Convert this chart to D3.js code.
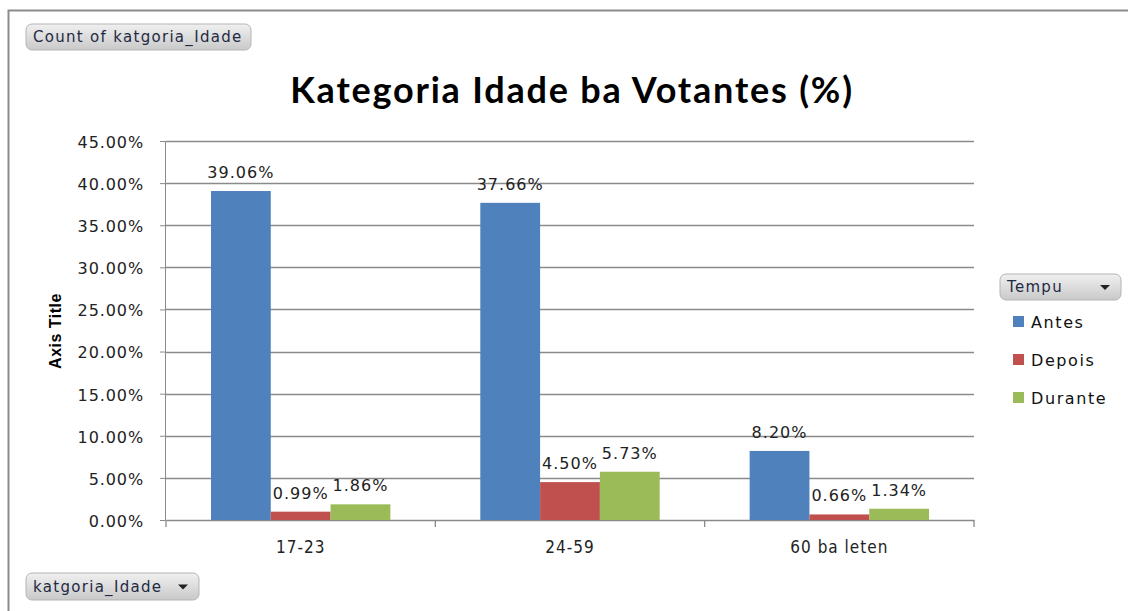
<!DOCTYPE html>
<html>
<head>
<meta charset="utf-8">
<script src="https://cdn.jsdelivr.net/npm/d3@7"></script>
<style>
  body { margin: 0; background: #fff; }
</style>
</head>
<body>
<div id="chart"></div>
<script>
// data
var categories = ["17-23", "24-59", "60 ba leten"];
var series = ["Antes", "Depois", "Durante"];
var seriesColors = ["#4f81bd", "#c0504d", "#9bbb59"];
var antes = [0.3906, 0.3766, 0.0820];
var depois = [0.0099, 0.0450, 0.0066];
var durante = [0.0186, 0.0573, 0.0134];
var yTicks = [0, 0.05, 0.10, 0.15, 0.20, 0.25, 0.30, 0.35, 0.40, 0.45];

var W = 1128, H = 611;
const margin = {top: 141, right: 154, bottom: 91, left: 166},
    width = W - margin.left - margin.right,
    height = H - margin.top - margin.bottom;

var svg = d3.select("#chart").append("svg")
    .attr("width", W).attr("height", H);

// outer frame (top + left)
svg.append("path")
    .attr("d", "M8.5," + H + "V10.5H" + W)
    .attr("fill", "none").attr("stroke", "#8c8c8c").attr("stroke-width", 2);

var defs = svg.append("defs");
var grad = defs.append("linearGradient").attr("id", "btn").attr("x1", 0).attr("x2", 0).attr("y1", 0).attr("y2", 1);
grad.append("stop").attr("offset", "0%").attr("stop-color", "#f0f0f0");
grad.append("stop").attr("offset", "100%").attr("stop-color", "#c9c9c9");

function button(x, y, w, h, label, arrow) {
    var g = svg.append("g").attr("transform", "translate(" + x + "," + y + ")");
    g.append("rect").attr("width", w).attr("height", h).attr("rx", 6)
        .attr("fill", "url(#btn)").attr("stroke", "#b5b5b5");
    g.append("text").attr("x", 7).attr("y", h / 2 + 5)
        .style("font-family", "'DejaVu Sans'")
        .style("font-size", "15px").style("letter-spacing", "1.3px")
        .attr("fill", "#1f2a44").text(label);
    if (arrow) {
        g.append("path")
            .attr("d", "M" + (w - 21) + "," + (h / 2 - 2) + "h10l-5,5z")
            .attr("fill", "#222");
    }
}
button(26, 24, 225, 26, "Count of katgoria_Idade", false);
button(26, 573, 173, 27, "katgoria_Idade", true);
button(1000, 274, 121, 26, "Tempu", true);

// title
svg.append("text")
    .attr("x", 572).attr("y", 103)
    .attr("text-anchor", "middle")
    .style("font-family", "Lato")
    .style("font-weight", "bold")
    .style("font-size", "36px")
    .style("letter-spacing", "1.8px")
    .attr("fill", "#000")
    .text("Kategoria Idade ba Votantes (%)");

var g = svg.append("g").attr("transform", "translate(" + margin.left + "," + margin.top + ")");

var x0 = d3.scaleBand().domain(categories).range([0, width]).paddingInner(0).paddingOuter(0);
var x1 = d3.scaleBand().domain(series).range([x0.bandwidth() * 0.167, x0.bandwidth() * 0.833]);
var y = d3.scaleLinear().domain([0, 0.45]).range([height, 0]);

// gridlines
g.selectAll(".grid").data(yTicks.slice(1)).enter().append("line")
    .attr("x1", 0).attr("x2", width)
    .attr("y1", function (d) { return Math.round(y(d)) + 0.5; })
    .attr("y2", function (d) { return Math.round(y(d)) + 0.5; })
    .attr("stroke", "#8a8a8a").attr("stroke-width", 1.3);

// y axis
var yAxis = d3.axisLeft(y).tickValues(yTicks).tickSize(6)
    .tickFormat(function (d) { return (d * 100).toFixed(2) + "%"; });
var ya = g.append("g").call(yAxis);
ya.select(".domain").attr("stroke", "#8a8a8a").attr("d", "M-0.5," + height + "V0");
ya.selectAll(".tick line").attr("stroke", "#8a8a8a");
ya.selectAll("text").attr("x", -22).attr("dy", "0.4em")
    .style("font-family", "'DejaVu Sans'").style("font-size", "16px")
    .style("letter-spacing", "0.9px").attr("fill", "#222");

// x axis
var xa = g.append("g").attr("transform", "translate(0," + height + ")")
    .call(d3.axisBottom(x0).tickSize(0).tickPadding(21));
xa.select(".domain").attr("stroke", "#8a8a8a").attr("stroke-width", 1.3);
xa.selectAll("text").style("font-family", "'DejaVu Sans Condensed'").style("font-size", "17px")
    .style("letter-spacing", "1px").attr("fill", "#222");
xa.selectAll(".sep").data(d3.range(categories.length + 1)).enter().append("line")
    .attr("x1", function (d) { return d * x0.bandwidth(); })
    .attr("x2", function (d) { return d * x0.bandwidth(); })
    .attr("y1", 0).attr("y2", 7)
    .attr("stroke", "#8a8a8a").attr("stroke-width", 1.3);

// bars
var rows = categories.map(function (c, i) {
    return {cat: c, vals: [antes[i], depois[i], durante[i]]};
});
var groups = g.selectAll(".grp").data(rows).enter().append("g")
    .attr("transform", function (d) { return "translate(" + x0(d.cat) + ",0)"; });

groups.selectAll("rect").data(function (d) {
    return d.vals.map(function (v, j) { return {s: series[j], v: v, c: seriesColors[j]}; });
}).enter().append("rect")
    .attr("x", function (d) { return x1(d.s); })
    .attr("width", x1.bandwidth())
    .attr("y", function (d) { return y(d.v); })
    .attr("height", function (d) { return height - y(d.v); })
    .attr("fill", function (d) { return d.c; });

groups.selectAll(".lbl").data(function (d) {
    return d.vals.map(function (v, j) { return {s: series[j], v: v}; });
}).enter().append("text")
    .attr("x", function (d) { return x1(d.s) + x1.bandwidth() / 2; })
    .attr("y", function (d) { return y(d.v) - 13; })
    .attr("text-anchor", "middle")
    .style("font-family", "'DejaVu Sans'").style("font-size", "16px")
    .style("letter-spacing", "1px")
    .attr("fill", "#222")
    .text(function (d) { return (d.v * 100).toFixed(2) + "%"; });

// legend
var leg = svg.append("g").attr("transform", "translate(1013,316)");
series.forEach(function (s, i) {
    leg.append("rect").attr("x", 0).attr("y", i * 38).attr("width", 11).attr("height", 11)
        .attr("fill", seriesColors[i]);
    leg.append("text").attr("x", 18).attr("y", i * 38 + 12)
        .style("font-family", "'DejaVu Sans'").style("font-size", "16px")
        .style("letter-spacing", "1.6px")
        .attr("fill", "#111").text(s);
});

// axis title
svg.append("text")
    .attr("transform", "translate(61,331) rotate(-90)")
    .attr("text-anchor", "middle")
    .style("font-family", "'Liberation Sans'")
    .style("font-weight", "bold").style("font-size", "16px")
    .style("letter-spacing", "0.5px")
    .attr("fill", "#000").text("Axis Title");
</script>
</body>
</html>
